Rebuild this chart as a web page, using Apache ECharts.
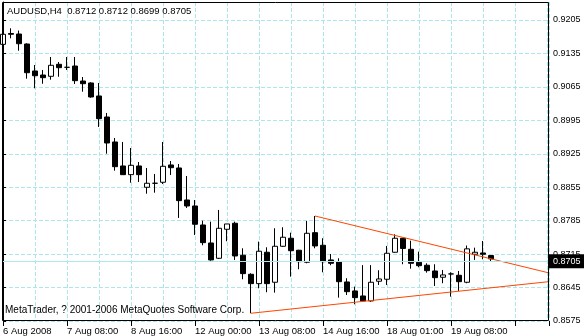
<!DOCTYPE html>
<html><head><meta charset="utf-8">
<script src="https://cdn.jsdelivr.net/npm/echarts@6/dist/echarts.min.js"></script>
<style>html,body{margin:0;padding:0;background:#fff}#c{width:584px;height:336px}</style>
</head><body><div id="c"></div>
<script>
const chartTitle = 'AUDUSD,H4  0.8712 0.8712 0.8699 0.8705';
const copyright = 'MetaTrader, ? 2001-2006 MetaQuotes Software Corp.';
const dateLabels = ['6 Aug 2008','7 Aug 08:00','8 Aug 16:00','12 Aug 00:00','13 Aug 08:00','14 Aug 16:00','18 Aug 01:00','19 Aug 08:00'];
const yTicks = ['0.8575','0.8645','0.8715','0.8785','0.8855','0.8925','0.8995','0.9065','0.9135','0.9205'];
const yMax = 0.92427;
const xMax = 68.25;
const opens = [0.91541,0.91768,0.91757,0.91548,0.90983,0.90899,0.90872,0.91123,0.91060,0.91087,
0.90773,0.90732,0.90460,0.90020,0.89497,0.88995,0.88813,0.88995,0.88549,0.88633,
0.88654,0.89016,0.88953,0.88283,0.88158,0.87760,0.87383,0.87063,0.87670,0.87796,
0.87126,0.86728,0.86532,0.87189,0.86561,0.87314,0.87482,0.87231,0.86979,0.87599,
0.87335,0.87028,0.86992,0.86567,0.86379,0.86274,0.86170,0.86582,0.86624,0.87189,
0.87482,0.87251,0.86979,0.86917,0.86797,0.86666,0.86735,0.86707,0.86561,0.87147,
0.87174,0.8712];
const closes = [0.91751,0.91751,0.91554,0.90947,0.90884,0.90843,0.91102,0.91052,0.91060,0.90780,
0.90717,0.90439,0.89985,0.89476,0.88980,0.88813,0.89009,0.88813,0.88633,0.88633,
0.88988,0.88959,0.88269,0.88158,0.87775,0.87390,0.87028,0.87691,0.87781,0.87111,
0.86741,0.86532,0.87210,0.86532,0.87314,0.87503,0.87222,0.86992,0.87586,0.87321,
0.86992,0.86958,0.86573,0.86364,0.86239,0.86170,0.86561,0.86630,0.87168,0.87482,
0.87268,0.86958,0.86908,0.86804,0.86657,0.86714,0.86735,0.86573,0.87260,0.87189,
0.87147,0.8705];
const lows = [0.91506,0.91667,0.91408,0.90822,0.90621,0.90717,0.90801,0.90863,0.91004,0.90711,
0.90550,0.90424,0.89811,0.89252,0.88896,0.88813,0.88645,0.88660,0.88415,0.88436,
0.88618,0.88806,0.87907,0.88116,0.87551,0.87335,0.87013,0.87048,0.87419,0.87028,
0.86624,0.85912,0.86435,0.86352,0.86344,0.87300,0.86678,0.86833,0.86958,0.87272,
0.86770,0.86917,0.86239,0.86295,0.86100,0.86155,0.86155,0.86504,0.86504,0.87180,
0.86938,0.86845,0.86875,0.86762,0.86483,0.86540,0.86260,0.86379,0.86540,0.87028,
0.87042,0.8699];
const highs = [0.91841,0.91876,0.91829,0.91562,0.91108,0.91004,0.91276,0.91171,0.91276,0.91276,
0.90857,0.90746,0.90732,0.90104,0.89581,0.89497,0.89371,0.89078,0.88953,0.88827,
0.89497,0.89099,0.89037,0.88785,0.88283,0.87850,0.87829,0.88074,0.87781,0.87829,
0.87272,0.86749,0.87411,0.87293,0.87691,0.87712,0.87599,0.87240,0.87844,0.87948,
0.87482,0.87153,0.87063,0.86645,0.86469,0.86920,0.86920,0.86812,0.87321,0.87565,
0.87490,0.87431,0.87201,0.86958,0.86938,0.86818,0.86770,0.86797,0.87330,0.87285,
0.87425,0.8712];
const bidPrice = 0.8705;
const upperTrend = [[39, 0.87948], [68.25, 0.86756]];
const lowerTrend = [[31, 0.85912], [68.25, 0.86574]];

const FONT = 'Liberation Sans';
const gridColor = '#ade6ea';
const candles = opens.map((o, i) => [i, o, closes[i], lows[i], highs[i]]);

const chart = echarts.init(document.getElementById('c'), null, {renderer: 'canvas'});
chart.setOption({
  animation: false,
  backgroundColor: '#fff',
  title: [
    {text: chartTitle, left: 7, top: 6, padding: 0, textStyle: {fontSize: 9.5, fontWeight: 'normal', color: '#000', fontFamily: FONT}},
    {text: copyright, left: 5, top: 305, padding: 0, textStyle: {fontSize: 10, fontWeight: 'normal', color: '#000', fontFamily: FONT}}
  ],
  grid: {left: 3, right: 35, top: 2, bottom: 15, containLabel: false},
  xAxis: [
    {type: 'value', min: 0, max: xMax, interval: 8, position: 'bottom',
     axisLine: {show: false},
     axisTick: {show: true, length: 5, lineStyle: {color: '#000'}},
     axisLabel: {margin: 5, align: 'left', color: '#000', fontSize: 9.5, fontFamily: FONT,
       formatter: v => dateLabels[Math.round(v / 8)] !== undefined && Math.abs(v / 8 - Math.round(v / 8)) < 1e-6 ? dateLabels[Math.round(v / 8)] : ''},
     splitLine: {show: false}},
    {type: 'value', min: 0, max: xMax, interval: 4, position: 'bottom',
     axisLine: {show: false}, axisTick: {show: false}, axisLabel: {show: false},
     splitLine: {show: true, lineStyle: {color: gridColor, type: [4, 2], width: 1}}}
  ],
  yAxis: {
    type: 'value', position: 'right', min: +yTicks[0], max: yMax, interval: +yTicks[1] - +yTicks[0],
    axisLine: {show: true, lineStyle: {color: '#000'}},
    axisTick: {show: true, length: 3, lineStyle: {color: '#000'}},
    axisLabel: {showMaxLabel: false, margin: 4, color: '#000', fontSize: 9, fontFamily: FONT,
      formatter: v => v.toFixed(4)},
    splitLine: {show: true, lineStyle: {color: gridColor, type: [4, 2], width: 1}}
  },
  graphic: [{type: 'rect', z: 100, silent: true,
    shape: {x: 2.5, y: 2.5, width: 546, height: 318},
    style: {fill: 'none', stroke: '#000', lineWidth: 1}}],
  series: [
    {type: 'candlestick', xAxisIndex: 0, data: candles, barWidth: 5,
     itemStyle: {color: '#fff', color0: '#000', borderColor: '#000', borderColor0: '#000', borderColorDoji: '#000', borderWidth: 1},
     markLine: {silent: true, symbol: 'none', animation: false,
       lineStyle: {color: '#a8e8ee', type: 'solid', width: 1},
       label: {show: true, position: 'end', distance: 0, formatter: () => bidPrice.toFixed(4),
         backgroundColor: '#000', color: '#fff', fontSize: 9, fontFamily: FONT, padding: [3, 6, 2, 4]},
       data: [{yAxis: bidPrice}]}},
    {type: 'line', xAxisIndex: 0, data: upperTrend, showSymbol: false, symbol: 'none',
     lineStyle: {color: '#ff4500', width: 1}},
    {type: 'line', xAxisIndex: 0, data: lowerTrend, showSymbol: false, symbol: 'none',
     lineStyle: {color: '#ff4500', width: 1}}
  ]
});
</script></body></html>
